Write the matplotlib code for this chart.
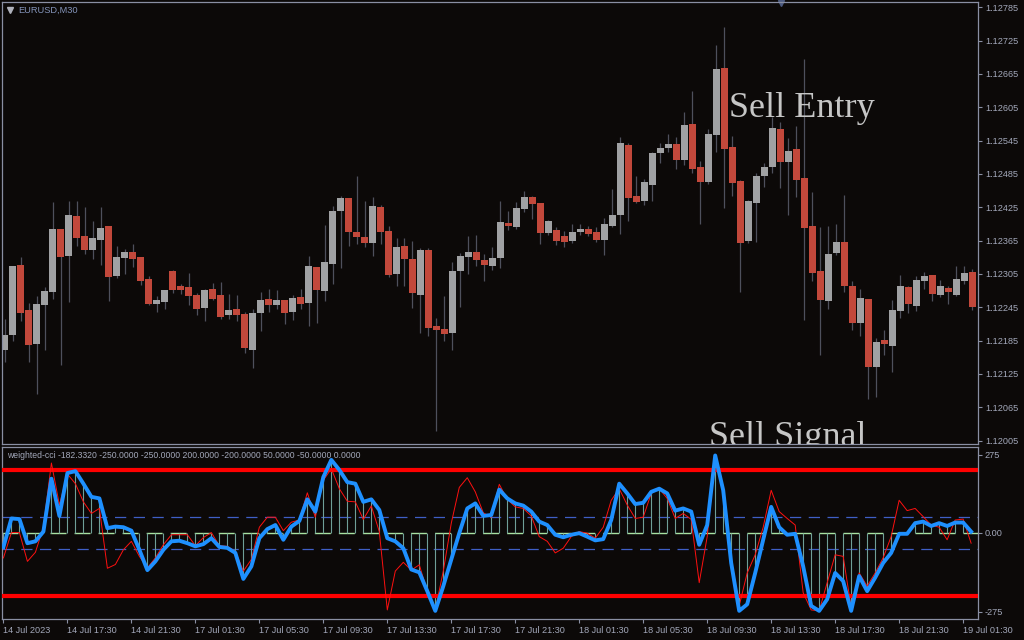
import numpy as np
import matplotlib
matplotlib.use('agg')
import matplotlib.pyplot as plt

# EURUSD M30 bars, 14 Jul 2023 13:30 -> 19 Jul 2023 02:00
opens = [1.12168, 1.12195, 1.12321, 1.12240, 1.12179, 1.12249, 1.12272, 1.12386, 1.12337, 1.12409,
         1.12373, 1.12348, 1.12366, 1.12391, 1.12301, 1.12334, 1.12344, 1.12335, 1.12296, 1.12251,
         1.12254, 1.12310, 1.12283, 1.12281, 1.12267, 1.12244, 1.12278, 1.12267, 1.12231, 1.12242,
         1.12233, 1.12168, 1.12235, 1.12260, 1.12249, 1.12258, 1.12236, 1.12263, 1.12253, 1.12317,
         1.12274, 1.12323, 1.12418, 1.12442, 1.12380, 1.12371, 1.12361, 1.12425, 1.12382, 1.12305,
         1.12355, 1.12332, 1.12267, 1.12348, 1.12211, 1.12206, 1.12199, 1.12310, 1.12335, 1.12344,
         1.12330, 1.12319, 1.12334, 1.12397, 1.12389, 1.12422, 1.12443, 1.12433, 1.12379, 1.12384,
         1.12373, 1.12364, 1.12380, 1.12386, 1.12380, 1.12366, 1.12391, 1.12411, 1.12537, 1.12445,
         1.12436, 1.12465, 1.12523, 1.12532, 1.12539, 1.12510, 1.12575, 1.12497, 1.12470, 1.12555,
         1.12676, 1.12533, 1.12472, 1.12364, 1.12433, 1.12481, 1.12497, 1.12566, 1.12506, 1.12530,
         1.12478, 1.12391, 1.12310, 1.12256, 1.12343, 1.12362, 1.12283, 1.12217, 1.12260, 1.12137,
         1.12186, 1.12175, 1.12238, 1.12281, 1.12247, 1.12292, 1.12303, 1.12267, 1.12280, 1.12267,
         1.12292, 1.12308]
highs = [1.12224, 1.12319, 1.12335, 1.12253, 1.12265, 1.12281, 1.12434, 1.12386, 1.12436, 1.12436,
         1.12425, 1.12400, 1.12425, 1.12391, 1.12355, 1.12350, 1.12359, 1.12335, 1.12301, 1.12265,
         1.12276, 1.12312, 1.12287, 1.12307, 1.12271, 1.12278, 1.12289, 1.12290, 1.12269, 1.12267,
         1.12236, 1.12242, 1.12272, 1.12278, 1.12276, 1.12258, 1.12267, 1.12278, 1.12337, 1.12317,
         1.12393, 1.12427, 1.12445, 1.12442, 1.12481, 1.12436, 1.12443, 1.12429, 1.12391, 1.12370,
         1.12370, 1.12364, 1.12352, 1.12352, 1.12226, 1.12265, 1.12326, 1.12343, 1.12373, 1.12375,
         1.12341, 1.12353, 1.12436, 1.12418, 1.12434, 1.12454, 1.12445, 1.12433, 1.12402, 1.12389,
         1.12382, 1.12395, 1.12395, 1.12391, 1.12389, 1.12406, 1.12458, 1.12551, 1.12541, 1.12481,
         1.12476, 1.12525, 1.12541, 1.12557, 1.12551, 1.12596, 1.12634, 1.12508, 1.12566, 1.12717,
         1.12749, 1.12553, 1.12474, 1.12438, 1.12487, 1.12505, 1.12587, 1.12578, 1.12550, 1.12571,
         1.12692, 1.12452, 1.12389, 1.12391, 1.12395, 1.12447, 1.12292, 1.12278, 1.12260, 1.12190,
         1.12204, 1.12258, 1.12303, 1.12283, 1.12301, 1.12308, 1.12303, 1.12294, 1.12283, 1.12319,
         1.12319, 1.12314]
lows = [1.12146, 1.12184, 1.12220, 1.12146, 1.12089, 1.12168, 1.12260, 1.12141, 1.12254, 1.12355,
        1.12341, 1.12332, 1.12321, 1.12256, 1.12298, 1.12305, 1.12317, 1.12285, 1.12249, 1.12236,
        1.12242, 1.12271, 1.12269, 1.12249, 1.12231, 1.12220, 1.12258, 1.12224, 1.12224, 1.12220,
        1.12163, 1.12136, 1.12202, 1.12236, 1.12242, 1.12215, 1.12222, 1.12242, 1.12211, 1.12217,
        1.12256, 1.12287, 1.12316, 1.12355, 1.12359, 1.12353, 1.12337, 1.12359, 1.12299, 1.12283,
        1.12283, 1.12244, 1.12199, 1.12193, 1.12022, 1.12184, 1.12168, 1.12245, 1.12305, 1.12319,
        1.12292, 1.12312, 1.12316, 1.12384, 1.12386, 1.12416, 1.12404, 1.12359, 1.12375, 1.12357,
        1.12353, 1.12361, 1.12375, 1.12373, 1.12362, 1.12339, 1.12389, 1.12377, 1.12400, 1.12433,
        1.12429, 1.12436, 1.12505, 1.12524, 1.12494, 1.12501, 1.12487, 1.12395, 1.12467, 1.12524,
        1.12424, 1.12445, 1.12272, 1.12361, 1.12362, 1.12461, 1.12487, 1.12460, 1.12411, 1.12443,
        1.12222, 1.12292, 1.12159, 1.12242, 1.12339, 1.12272, 1.12204, 1.12193, 1.12080, 1.12083,
        1.12159, 1.12128, 1.12226, 1.12235, 1.12238, 1.12278, 1.12256, 1.12263, 1.12251, 1.12265,
        1.12287, 1.12240]
closes = [1.12195, 1.12319, 1.12235, 1.12177, 1.12251, 1.12274, 1.12386, 1.12335, 1.12411, 1.12370,
          1.12348, 1.12370, 1.12388, 1.12299, 1.12335, 1.12344, 1.12332, 1.12292, 1.12251, 1.12258,
          1.12276, 1.12276, 1.12276, 1.12265, 1.12242, 1.12276, 1.12260, 1.12227, 1.12240, 1.12231,
          1.12172, 1.12235, 1.12258, 1.12249, 1.12258, 1.12235, 1.12262, 1.12251, 1.12319, 1.12276,
          1.12326, 1.12418, 1.12442, 1.12380, 1.12371, 1.12361, 1.12427, 1.12380, 1.12303, 1.12353,
          1.12332, 1.12271, 1.12348, 1.12208, 1.12204, 1.12197, 1.12310, 1.12337, 1.12344, 1.12330,
          1.12321, 1.12334, 1.12398, 1.12391, 1.12424, 1.12443, 1.12431, 1.12379, 1.12400, 1.12364,
          1.12362, 1.12380, 1.12386, 1.12377, 1.12366, 1.12395, 1.12411, 1.12541, 1.12442, 1.12434,
          1.12470, 1.12523, 1.12532, 1.12539, 1.12510, 1.12573, 1.12494, 1.12470, 1.12557, 1.12674,
          1.12530, 1.12469, 1.12361, 1.12436, 1.12481, 1.12497, 1.12568, 1.12506, 1.12526, 1.12474,
          1.12388, 1.12307, 1.12258, 1.12341, 1.12362, 1.12283, 1.12217, 1.12262, 1.12137, 1.12182,
          1.12179, 1.12240, 1.12283, 1.12251, 1.12294, 1.12301, 1.12269, 1.12283, 1.12272, 1.12296,
          1.12307, 1.12245]

# weighted cci (thick blue) and raw cci (thin red)
wcci = [-45, 46, 44, -33, -27, 4, 173, 54, 191, 197, 157, 115, 110, 15, 20, 18, 7, -54, -119, -91,
        -54, -27, -25, -33, -43, -36, -17, -45, -48, -64, -147, -107, -17, 12, 25, -22, 20, 38, 107, 68,
        178, 233, 201, 162, 157, 99, 107, 73, -17, -27, -49, -117, -126, -186, -249, -170, -85, -1, 78, 94,
        54, 57, 138, 110, 94, 87, 68, 36, 25, -6, -14, -6, -1, -12, -24, -20, 41, 157, 126, 92,
        96, 131, 141, 126, 71, 78, 68, -38, 25, 247, 136, -96, -249, -228, -128, -22, 83, 18, -6, -3,
        -107, -233, -249, -212, -128, -154, -249, -138, -186, -143, -96, -64, -3, -3, 31, 36, 22, 31, 22, 33,
        33, 4]
cci = [-80, 1, 1, -91, -62, 18, 223, 89, 188, 157, 99, 62, 78, -113, -101, -54, -27, -75, -112, -80,
       -38, -6, -6, -6, -41, -15, 1, -41, -43, -59, -122, -85, 18, 50, 50, 7, 34, 41, 128, 50,
       168, 205, 141, 101, 99, 43, 86, 4, -246, -122, -94, -119, -102, -187, -246, -122, 31, 145, 176, 131,
       64, 50, 155, 107, 83, 78, 54, -12, -27, -64, -49, -12, 4, -1, -17, 18, 104, 141, 89, 46,
       50, 126, 141, 110, 46, 62, 43, -159, -12, 244, 147, -85, -233, -128, -70, 18, 136, 68, 46, 25,
       -191, -246, -249, -159, -70, -75, -238, -128, -170, -128, -80, -12, 104, 71, 78, 52, 25, 18, -22, 41,
       44, -33]

time_labels = ['14 Jul 2023', '14 Jul 17:30', '14 Jul 21:30', '17 Jul 01:30', '17 Jul 05:30',
               '17 Jul 09:30', '17 Jul 13:30', '17 Jul 17:30', '17 Jul 21:30', '18 Jul 01:30',
               '18 Jul 05:30', '18 Jul 09:30', '18 Jul 13:30', '18 Jul 17:30', '18 Jul 21:30',
               '19 Jul 01:30']
price_ticks = [1.12005, 1.12065, 1.12125, 1.12185, 1.12245, 1.12305, 1.12365, 1.12425,
               1.12485, 1.12545, 1.12605, 1.12665, 1.12725, 1.12785]

bg = '#0c0908'
frame = '#8a8fa3'
txt = '#a3a8ba'
bull = '#a0a1a3'
bear = '#c2483b'
wick = '#4e505c'
small = ['Liberation Sans', 'DejaVu Sans']

o = np.array(opens); h = np.array(highs); l = np.array(lows); c = np.array(closes)
x = np.arange(len(o))

fig = plt.figure(figsize=(10.24, 6.4), dpi=100, facecolor=bg)
ax = fig.add_axes([0.00225, 0.30625, 0.95275, 0.69015], facecolor=bg)
ax2 = fig.add_axes([0.00225, 0.0328, 0.95275, 0.2692], facecolor=bg)

# candles
ax.vlines(x, l, h, color=wick, lw=0.9, zorder=1)
body_lo = np.minimum(o, c)
body_h = np.maximum(np.abs(c - o), 0.000018)
cols = [bull if cc >= oo else bear for oo, cc in zip(o, c)]
ax.bar(x, body_h, bottom=body_lo, width=0.85, color=cols, linewidth=0, zorder=2)

ax.set_xlim(-0.29, 121.7)
ax.set_ylim(1.11999, 1.12794)
ax.yaxis.tick_right()
ax.set_yticks(price_ticks)
ax.set_yticklabels(['%.5f' % p for p in price_ticks])
ax.tick_params(axis='y', colors=frame, labelcolor=txt, length=3, width=0.8, pad=2, labelsize=6.6)
ax.set_xticks([])
for lab in ax.get_yticklabels():
    lab.set_family(small)
for s in ax.spines.values():
    s.set_color(frame); s.set_linewidth(0.9)

ax.text(18 / 1024, 1 - 10 / 640, 'EURUSD,M30', transform=fig.transFigure, color='#8494ba',
        fontsize=6.7, family=small, va='center', ha='left')
ax.plot([9.5 / 1024], [1 - 9.5 / 640], marker='v', color='#b0b2bc', markersize=4,
        transform=fig.transFigure, clip_on=False)
ax.plot([781 / 1024], [1 - 3 / 640], marker='v', color='#4c5a80', markersize=5,
        transform=fig.transFigure, clip_on=False)

ax.text(729 / 1024, 1 - 117 / 640, 'Sell Entry', transform=fig.transFigure, color='#c6c6c6',
        fontsize=26, family=['Liberation Serif', 'DejaVu Serif'], va='baseline', ha='left')
t = ax.text(709 / 1024, 1 - 446 / 640, 'Sell Signal', transform=fig.transFigure, color='#c6c6c6',
            fontsize=26, family=['Liberation Serif', 'DejaVu Serif'], va='baseline', ha='left')
t.set_clip_on(True)
t.set_clip_box(ax.bbox)

# indicator window
xi = x - 0.15
ax2.axhline(50, color='#3f5fc6', lw=0.9, ls=(0, (9, 6)), zorder=1)
ax2.axhline(-50, color='#3f5fc6', lw=0.9, ls=(0, (9, 6)), zorder=1)
ax2.axhline(0, color='#a8e2a2', lw=1.0, ls=(0, (11.5, 5.8)), zorder=1)
ax2.vlines(xi, 0, wcci, color='#6f9f98', lw=0.8, zorder=2)
ax2.axhline(200, color='#ff0000', lw=3, zorder=3)
ax2.axhline(-200, color='#ff0000', lw=3, zorder=3)
ax2.plot(xi, cci, color='#ff1010', lw=0.7, zorder=4)
ax2.plot(xi, wcci, color='#1e90ff', lw=2.8, zorder=5)

ax2.set_xlim(-0.29, 121.7)
ax2.set_ylim(-275, 275)
ax2.yaxis.tick_right()
ax2.set_yticks([250, 0, -252])
ax2.set_yticklabels(['275', '0.00', '-275'])
ax2.tick_params(axis='y', colors=frame, labelcolor=txt, length=3, width=0.8, pad=2, labelsize=6.6)
ax2.set_xticks(np.arange(len(time_labels)) * 8 - 0.19)
ax2.set_xticklabels(time_labels)
ax2.tick_params(axis='x', colors=frame, labelcolor=txt, length=3, width=0.8, pad=2, labelsize=6.6)
for lab in ax2.get_xticklabels():
    lab.set_ha('left'); lab.set_family(small)
for lab in ax2.get_yticklabels():
    lab.set_family(small)
for s in ax2.spines.values():
    s.set_color(frame); s.set_linewidth(0.9)

ax2.text(7 / 1024, 1 - 455 / 640,
         'weighted-cci -182.3320 -250.0000 -250.0000 200.0000 -200.0000 50.0000 -50.0000 0.0000',
         transform=fig.transFigure, color=txt, fontsize=6.2, family=small, va='center', ha='left')

fig.savefig('out.png', dpi=100, facecolor=bg)
